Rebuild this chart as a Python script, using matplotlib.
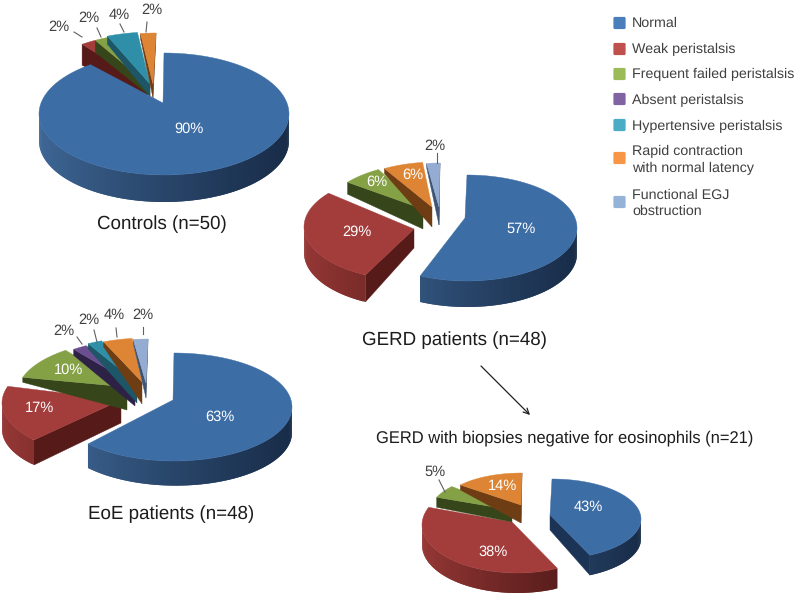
import numpy as np
import matplotlib
matplotlib.use("Agg")
import matplotlib.pyplot as plt
from matplotlib.path import Path
from matplotlib.patches import FancyBboxPatch

plt.rcParams["font.family"] = ["Liberation Sans", "DejaVu Sans"]
plt.rcParams["text.hinting"] = "no_hinting"
plt.rcParams["text.hinting_factor"] = 8

# data
categories = [
    "Normal",
    "Weak peristalsis",
    "Frequent failed peristalsis",
    "Absent peristalsis",
    "Hypertensive peristalsis",
    "Rapid contraction\nwith normal latency",
    "Functional EGJ\nobstruction",
]
controls_values = [90, 2, 2, 0, 4, 2, 0]
gerd_values = [57, 29, 6, 0, 0, 6, 2]
eoe_values = [63, 17, 10, 2, 2, 4, 2]
negative_values = [43, 38, 5, 0, 0, 14, 0]

# styles, one row per category: top, side light, side dark, cut face
top_colors = ["#3d6da5", "#a33d3b", "#85a146", "#6a4e8f", "#2f8fa9", "#dd8535", "#94acd2"]
side_light = ["#3f6897", "#973836", "#7a9540", "#5f4680", "#2b84a0", "#c47530", "#7f97bd"]
side_dark = ["#182c48", "#471614", "#39481c", "#2c2040", "#174a5a", "#6a3a12", "#3c4e6c"]
face_colors = ["#1b3354", "#561a18", "#36461a", "#2e2146", "#1c5667", "#6e3d14", "#3f5474"]
legend_colors = ["#4a7ebb", "#c0504d", "#9bbb59", "#8064a2", "#4bacc6", "#f79646", "#95b3d7"]

# layout in pixels, one row per drawn slice:
# category, apex x, apex y, arc x, arc y, rx, ry, depth at apex, depth start, depth end
controls_layout = [
    (0, 163, 103, 164, 114, 125, 61, 20, 27, 27),
    (1, 148, 85, 155, 92, 124, 59, 12, 21, 21),
    (2, 150, 86, 155, 92, 124, 59, 10, 12, 12),
    (4, 150, 84, 153, 91, 124, 59, 12, 8, 8),
    (5, 153, 84, 156, 92, 124, 59, 14, 5, 5),
]
gerd_layout = [
    (0, 465, 218, 467, 228, 110, 53, 14, 26, 26),
    (1, 414, 229, 411, 227, 107, 53, 19, 27, 25),
    (2, 423, 209, 430, 216, 107, 53, 20, 12, 12),
    (5, 432, 207, 436, 215, 107, 53, 20, 5, 5),
    (6, 439, 207, 440, 216, 107, 53, 18, 4, 4),
]
eoe_layout = [
    (0, 173, 400, 174, 407, 118, 54, 14, 27, 24),
    (1, 121, 400, 120, 403, 118, 54, 23, 25, 27),
    (2, 127, 387, 135, 394, 118, 54, 23, 5, 5),
    (3, 135, 385, 143, 393, 118, 54, 21, 6, 6),
    (4, 137, 383, 145, 391, 118, 54, 20, 5, 5),
    (5, 142, 382, 147, 392, 118, 54, 22, 5, 5),
    (6, 146, 383, 148, 393, 118, 54, 15, 4, 4),
]
negative_layout = [
    (0, 550, 515, 552, 519, 89, 40, 15, 20, 20),
    (1, 512, 522, 517, 525, 95, 48, 14, 20, 20),
    (2, 512, 510, 525, 512, 95, 40, 12, 10, 10),
    (5, 521, 505, 522, 506, 80, 33, 18, 5, 5),
]

# percent labels: category, x, y, color, leader line or None
dark_text = "#404040"
controls_labels = [
    (0, 189, 129, "white", None),
    (1, 59, 27, dark_text, (74, 32, 82, 37)),
    (2, 89, 18, dark_text, (97, 28, 101, 37)),
    (4, 119, 15, dark_text, (120, 24, 124, 32)),
    (5, 152, 10, dark_text, (147, 22, 146, 32)),
]
gerd_labels = [
    (0, 521, 229, "white", None),
    (1, 357, 232, "white", None),
    (2, 377, 182, "white", None),
    (5, 413, 175, "white", None),
    (6, 435, 146, dark_text, (437, 153, 437, 163)),
]
eoe_labels = [
    (0, 220, 417, "white", None),
    (1, 40, 408, "white", None),
    (2, 69, 370, "white", None),
    (3, 64, 331, dark_text, (77, 337, 82, 344)),
    (4, 89, 320, dark_text, (94, 330, 97, 342)),
    (5, 114, 315, dark_text, (116, 328, 117, 337)),
    (6, 143, 315, dark_text, (143, 327, 143, 334)),
]
negative_labels = [
    (0, 588, 507, "white", None),
    (1, 493, 552, "white", None),
    (2, 435, 472, dark_text, (439, 480, 445, 492)),
    (5, 503, 486, "white", None),
]

LABEL_SIZE = 10.5
TITLE_SIZE = 13.5


def hex_rgb(color):
    return np.array(matplotlib.colors.to_rgb(color))


def arc_points(row, t):
    _, _, _, cx, cy, rx, ry, _, _, _ = row
    return np.column_stack([cx + rx * np.sin(t), cy - ry * np.cos(t)])


def draw_slice(ax, row, t0, t1):
    cat, ax_x, ax_y, _, _, _, _, d_apex, d0, d1 = row
    ts = np.linspace(t0, t1, max(int((t1 - t0) * 40), 6))
    arc = arc_points(row, ts)
    apex = np.array([ax_x, ax_y], dtype=float)
    outline = np.vstack([apex, arc])
    shape = Path(np.vstack([outline, apex]))

    # cut faces that look down towards the viewer
    for end, depth in ((arc[0], d0), (arc[-1], d1)):
        mid = (apex + end) / 2
        if not shape.contains_point((mid[0], mid[1] + 1.5)):
            quad = np.array([apex, end, end + [0, depth], apex + [0, d_apex]])
            ax.fill(quad[:, 0], quad[:, 1], color=face_colors[cat], lw=0.3, zorder=2)

    # outer wall, lower half of the ellipse only
    light = hex_rgb(side_light[cat])
    dark = hex_rgb(side_dark[cat])
    depths = np.linspace(d0, d1, len(ts))
    lower = np.where(np.cos(ts) < 0)[0]
    # strips overlap their neighbours so no seams show
    for i in lower[:-1]:
        tm = (ts[i] + ts[i + 1]) / 2
        f = (np.sin(tm) + 1) / 2
        col = light + (dark - light) * f ** 0.8
        j = min(i + 2, len(ts) - 1)
        p, q = arc[i], arc[j]
        quad = np.array([p, q, q + [0, depths[j]], p + [0, depths[i]]])
        ax.fill(quad[:, 0], quad[:, 1], color=col, lw=0, zorder=2)

    ax.fill(outline[:, 0], outline[:, 1], color=top_colors[cat], lw=0.3, zorder=2)


def draw_pie(ax, values, layout, labels):
    vals = np.array(values, dtype=float)
    edges = np.concatenate([[0], np.cumsum(vals)]) / vals.sum() * 2 * np.pi
    # small slices first, the big blue one covers them
    for row in layout[1:] + layout[:1]:
        cat = row[0]
        draw_slice(ax, row, edges[cat], edges[cat + 1])
    for cat, x, y, color, leader in labels:
        ax.text(x, y, f"{values[cat]}%", color=color, fontsize=LABEL_SIZE,
                ha="center", va="center", zorder=5)
        if leader:
            ax.plot(leader[0::2], leader[1::2], color="#606060", lw=0.8, zorder=4)


fig = plt.figure(figsize=(8.0, 6.01), dpi=100)
ax = fig.add_axes([0, 0, 1, 1])
ax.set_xlim(0, 800)
ax.set_ylim(601, 0)
ax.axis("off")

draw_pie(ax, controls_values, controls_layout, controls_labels)
draw_pie(ax, gerd_values, gerd_layout, gerd_labels)
draw_pie(ax, eoe_values, eoe_layout, eoe_labels)
draw_pie(ax, negative_values, negative_layout, negative_labels)

title_color = "#1c1c1c"
ax.text(162, 224, "Controls (n=50)", fontsize=TITLE_SIZE, color=title_color, ha="center", va="center")
ax.text(454, 340, "GERD patients (n=48)", fontsize=TITLE_SIZE, color=title_color, ha="center", va="center")
ax.text(171, 514, "EoE patients (n=48)", fontsize=TITLE_SIZE, color=title_color, ha="center", va="center")
ax.text(565, 438, "GERD with biopsies negative for eosinophils (n=21)", fontsize=11.9,
        color=title_color, ha="center", va="center")

ax.annotate("", xy=(530, 415), xytext=(481, 366),
            arrowprops=dict(arrowstyle="->", color="#202020", lw=0.9, mutation_scale=10,
                            shrinkA=0, shrinkB=0))

# legend
swatch_y = [23, 49, 74, 99, 125, 158, 202]
text_y = [23, 49, 74, 100, 126, 160, 203]
for name, sy, ty, color in zip(categories, swatch_y, text_y, legend_colors):
    ax.add_patch(FancyBboxPatch((614, sy - 5.5), 11, 11, boxstyle="round,pad=0.6,rounding_size=1.5",
                                fc=color, ec="none", zorder=3))
    ax.text(632, ty, name, fontsize=10.3, color="#404040", ha="left", va="center", linespacing=1.3)

fig.savefig("out.png", dpi=100)
